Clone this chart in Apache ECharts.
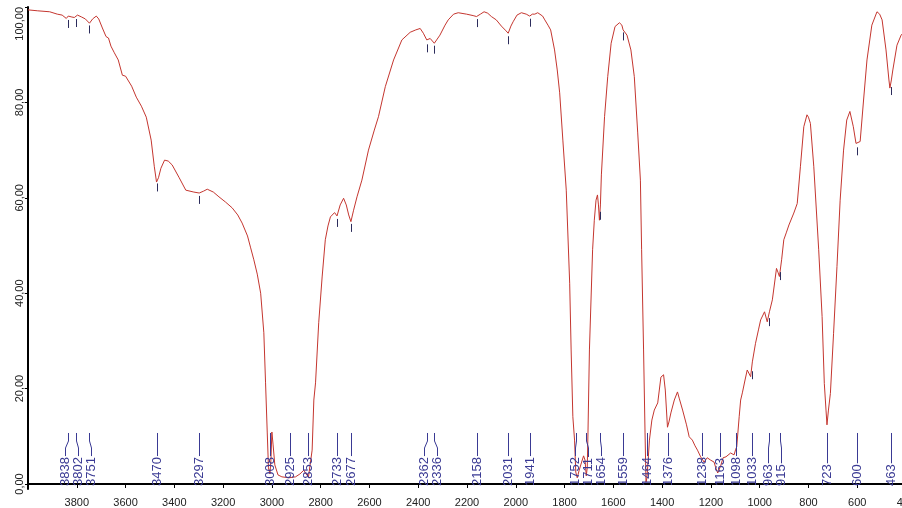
<!DOCTYPE html>
<html>
<head>
<meta charset="utf-8">
<script src="https://cdn.jsdelivr.net/npm/echarts@6/dist/echarts.min.js"></script>
<style>
  html, body { margin: 0; padding: 0; background: #ffffff; }
  #chart { width: 902px; height: 508px; }
</style>
</head>
<body>
<div id="chart"></div>
<script>
// ---- Data ----
const wavenumber = [
  4000, 3960, 3911, 3880, 3860, 3843, 3835, 3820, 3810, 3797, 3780, 3765, 3748, 3735, 3720, 3710,
  3695, 3680, 3670, 3660, 3646, 3630, 3613, 3600, 3592, 3575, 3556, 3535, 3515, 3495, 3482, 3473,
  3465, 3455, 3440, 3425, 3409, 3380, 3353, 3320, 3298, 3280, 3265, 3240, 3217, 3190, 3163, 3140,
  3122, 3100, 3087, 3074, 3060, 3046, 3033, 3026, 3019, 3014, 3008, 3004, 3000, 2995, 2988, 2975,
  2959, 2930, 2903, 2885, 2869, 2860, 2850, 2842, 2835, 2828, 2821, 2808, 2794, 2781, 2770, 2760,
  2743, 2733, 2720, 2706, 2695, 2685, 2676, 2665, 2651, 2631, 2604, 2580, 2563, 2535, 2501, 2467,
  2433, 2410, 2392, 2379, 2365, 2361, 2351, 2334, 2311, 2290, 2277, 2255, 2236, 2202, 2175, 2161,
  2145, 2130, 2115, 2100, 2080, 2059, 2040, 2031, 2020, 2011, 1995, 1977, 1957, 1943, 1932, 1922,
  1910, 1902, 1890, 1881, 1868, 1857, 1841, 1830, 1820, 1807, 1793, 1779, 1773, 1766, 1759, 1754,
  1748, 1740, 1730, 1722, 1716, 1711, 1707, 1704, 1698, 1685, 1678, 1671, 1665, 1661, 1657, 1653,
  1649, 1636, 1623, 1609, 1593, 1575, 1565, 1560, 1557, 1544, 1528, 1514, 1500, 1489, 1484, 1476,
  1470, 1466, 1462, 1452, 1442, 1432, 1418, 1405, 1394, 1387, 1378, 1372, 1364, 1350, 1337, 1330,
  1316, 1300, 1289, 1276, 1265, 1255, 1242, 1228, 1215, 1201, 1187, 1180, 1172, 1160, 1150, 1138,
  1119, 1105, 1098, 1094, 1084, 1078, 1071, 1060, 1051, 1037, 1030, 1017, 1005, 996, 980, 969,
  960, 948, 931, 925, 919, 910, 901, 890, 880, 860, 846, 833, 819, 806, 800, 792,
  778, 758, 744, 735, 728, 724, 718, 710, 697, 683, 670, 656, 643, 630, 616, 605,
  597, 588, 574, 560, 540, 519, 508, 498, 482, 470, 466, 460, 454, 437, 420, 400
];
const transmittance = [
  99.4, 99.2, 99.0, 98.5, 98.3, 97.6, 98.1, 97.9, 97.8, 98.3, 97.9, 97.5, 96.6, 97.5, 98.1, 97.5,
  95.6, 93.8, 93.5, 91.8, 90.4, 88.9, 85.7, 85.5, 85.3, 83.4, 81.1, 79.2, 76.9, 72.1, 66.5, 63.3,
  64.2, 66.2, 67.9, 67.7, 66.9, 64.2, 61.6, 61.2, 61.0, 61.4, 61.8, 61.2, 60.2, 59.1, 57.9, 56.4,
  54.7, 52.0, 49.5, 47.0, 44.0, 40.0, 31.7, 21.2, 10.7, 3.4, 2.1, 5.0, 10.9, 8.2, 4.0, 1.9,
  1.5, 1.3, 1.5, 2.1, 2.9, 2.1, 1.5, 1.3, 7.1, 17.6, 21.2, 33.8, 43.4, 51.2, 54.1, 56.0,
  56.9, 56.2, 58.5, 59.9, 58.5, 56.4, 55.0, 57.4, 60.2, 63.7, 70.0, 74.2, 77.0, 83.3, 88.9, 93.1,
  94.7, 95.2, 95.5, 94.5, 93.1, 92.7, 93.4, 92.4, 94.1, 96.2, 97.3, 98.5, 98.8, 98.5, 98.2, 98.0,
  98.5, 99.0, 98.7, 98.0, 97.3, 96.0, 95.0, 94.5, 96.0, 96.9, 98.3, 98.8, 98.5, 98.1, 98.5, 98.5,
  98.8, 98.8, 98.1, 97.3, 96.2, 95.2, 91.0, 86.8, 82.0, 72.1, 61.6, 42.1, 28.1, 14.1, 9.2, 2.5,
  1.3, 2.9, 4.6, 5.9, 5.0, 1.7, 3.4, 10.7, 28.1, 49.1, 55.3, 59.5, 60.6, 58.5, 55.3, 58.5,
  64.8, 77.0, 85.4, 92.4, 95.9, 96.7, 96.2, 95.2, 95.5, 94.1, 91.0, 85.4, 73.6, 63.7, 49.1, 28.1,
  10.7, 0.4, 1.3, 9.2, 13.4, 15.5, 17.0, 22.4, 22.9, 19.7, 11.9, 13.0, 14.9, 17.6, 19.3, 18.0,
  15.5, 12.4, 9.9, 9.2, 8.0, 7.1, 5.7, 4.6, 5.5, 5.0, 4.6, 3.4, 2.3, 3.8, 5.5, 5.7,
  6.5, 6.1, 7.3, 7.8, 14.1, 17.6, 19.1, 21.8, 23.9, 22.5, 25.6, 29.5, 32.3, 34.4, 36.1, 34.0,
  36.1, 38.6, 45.2, 44.4, 43.5, 47.0, 51.2, 52.8, 54.3, 56.8, 58.8, 66.5, 74.9, 77.4, 76.9, 75.6,
  66.5, 49.1, 35.1, 21.1, 15.5, 12.4, 15.5, 19.0, 31.6, 45.6, 59.5, 70.0, 76.3, 78.1, 74.9, 71.4,
  71.1, 71.8, 80.5, 88.9, 96.2, 99.0, 98.5, 97.3, 91.0, 84.7, 83.0, 84.7, 86.8, 92.0, 94.1, 95.2
];
const peaks = [3838, 3802, 3751, 3470, 3297, 3008, 2925, 2853, 2733, 2677, 2362, 2336, 2158, 2031,
  1941, 1752, 1711, 1654, 1559, 1464, 1376, 1238, 1163, 1098, 1033, 963, 915, 723, 600, 463];
const xTicks = [400, 600, 800, 1000, 1200, 1400, 1600, 1800, 2000, 2200, 2400, 2600, 2800, 3000, 3200, 3400, 3600, 3800];
const yTicks = [0, 20, 40, 60, 80, 100];

// ---- helpers ----
const LABEL_COLOR = '#3a3a94';
const MARK_COLOR = '#2c2c5c';
const CURVE_COLOR = '#c4362f';
const PEAK_FONT = '13px "Liberation Sans", Arial, sans-serif';

const measureCtx = document.createElement('canvas').getContext('2d');
measureCtx.font = PEAK_FONT;
function textLen(t) { return measureCtx.measureText(t).width; }

function interpT(w) {
  for (let i = 0; i < wavenumber.length - 1; i++) {
    const a = wavenumber[i], b = wavenumber[i + 1];
    if (w <= a && w >= b) {
      const f = (a - w) / (a - b);
      return transmittance[i] + f * (transmittance[i + 1] - transmittance[i]);
    }
  }
  return transmittance[transmittance.length - 1];
}

function layoutLabels(xs, gap) {
  let clusters = xs.map((x, i) => ({ idx: [i], start: x }));
  let changed = true;
  while (changed) {
    changed = false;
    for (let k = 0; k < clusters.length - 1; k++) {
      const a = clusters[k], b = clusters[k + 1];
      const aEnd = a.start + (a.idx.length - 1) * gap;
      if (b.start - aEnd < gap - 0.01) {
        const idx = a.idx.concat(b.idx);
        let s = 0;
        idx.forEach((id, j) => { s += xs[id] - j * gap; });
        clusters.splice(k, 2, { idx: idx, start: s / idx.length });
        changed = true;
        break;
      }
    }
  }
  const out = [];
  clusters.forEach(c => c.idx.forEach((id, j) => { out[id] = c.start + j * gap; }));
  return out;
}

const chart = echarts.init(document.getElementById('chart'), null, { renderer: 'canvas' });

const option = {
  animation: false,
  backgroundColor: '#ffffff',
  grid: { left: 28, right: -4, top: 7, bottom: 19, containLabel: false, outerBoundsMode: 'none' },
  xAxis: {
    type: 'value',
    inverse: true,
    min: 400,
    max: 4000,
    interval: 200,
    splitLine: { show: false },
    axisLine: { lineStyle: { color: '#000', width: 2 } },
    axisTick: { show: true, length: 4, customValues: xTicks, lineStyle: { color: '#000', width: 1 } },
    axisLabel: {
      color: '#222',
      fontSize: 11,
      fontFamily: '"Liberation Sans", Arial, sans-serif',
      margin: 8,
      hideOverlap: false,
      customValues: xTicks,
      formatter: v => String(v)
    }
  },
  yAxis: {
    type: 'value',
    min: -1.05,
    max: 100,
    splitLine: { show: false },
    axisLine: { show: true, lineStyle: { color: '#000', width: 2 } },
    axisTick: { show: true, length: 3, customValues: yTicks, lineStyle: { color: '#000', width: 1 } },
    axisLabel: {
      customValues: yTicks,
      rotate: 90,
      margin: 3,
      color: '#222',
      fontSize: 11,
      fontFamily: '"Liberation Sans", Arial, sans-serif',
      alignMaxLabel: 'right',
      formatter: v => v.toFixed(2).replace('.', ',')
    }
  },
  series: [
    {
      type: 'line',
      data: wavenumber.map((w, i) => [w, transmittance[i]]),
      showSymbol: false,
      symbol: 'none',
      lineStyle: { color: CURVE_COLOR, width: 1 },
      z: 3
    },
    {
      type: 'custom',
      coordinateSystem: 'cartesian2d',
      data: peaks.map(p => [p, 0]),
      clip: false,
      z: 4,
      renderItem: function (params, api) {
        const i = params.dataIndex;
        const xs = peaks.map(p => api.coord([p, 0])[0]);
        const lx = layoutLabels(xs, 13);
        const y0 = api.coord([peaks[i], 0])[1];
        const x = Math.round(xs[i]) + 0.5;
        const L = Math.round(lx[i]) + 0.5;
        const text = String(peaks[i]);
        const len = textLen(text);
        const textBottom = y0 + 2;
        const textTop = textBottom - len;
        const top = y0 - 51;
        let pts;
        if (Math.abs(L - x) < 1) {
          pts = [[x, top], [x, textTop - 1]];
        } else {
          pts = [[x, top], [x, y0 - 43], [L, y0 - 36], [L, textTop - 1]];
        }
        const children = [
          { type: 'polyline', shape: { points: pts }, style: { stroke: LABEL_COLOR, lineWidth: 1, fill: null } },
          {
            type: 'text', x: L, y: textBottom, rotation: Math.PI / 2,
            style: { text: text, fill: LABEL_COLOR, font: PEAK_FONT, align: 'left', verticalAlign: 'middle' }
          }
        ];
        const T = interpT(peaks[i]);
        const cy = api.coord([peaks[i], T])[1];
        if (cy + 12 < top) {
          children.push({
            type: 'line',
            shape: { x1: x, y1: cy + 3, x2: x, y2: cy + 11 },
            style: { stroke: MARK_COLOR, lineWidth: 1 }
          });
        }
        return { type: 'group', children: children };
      }
    }
  ]
};

chart.setOption(option);
</script>
</body>
</html>
